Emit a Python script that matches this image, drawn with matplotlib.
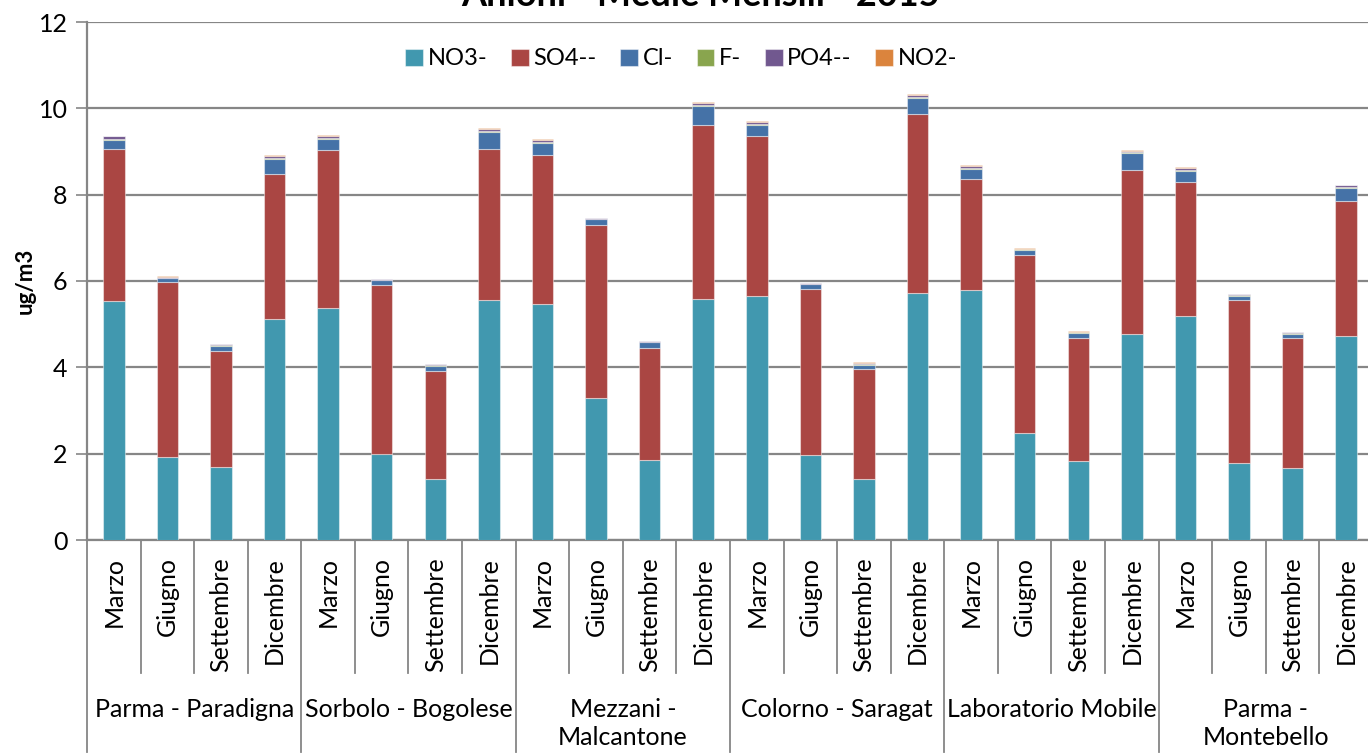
import numpy as np
import matplotlib.pyplot as plt
import matplotlib.transforms as mtransforms

plt.rcParams['font.family'] = ['Lato', 'DejaVu Sans']

stations = ["Parma - Paradigna", "Sorbolo - Bogolese", "Mezzani -\nMalcantone",
            "Colorno - Saragat", "Laboratorio Mobile", "Parma -\nMontebello"]
months = ["Marzo", "Giugno", "Settembre", "Dicembre"]

no3 = [5.54, 1.93, 1.68, 5.12, 5.37, 1.99, 1.42, 5.55, 5.46, 3.30, 1.85, 5.58,
       5.65, 1.96, 1.42, 5.72, 5.78, 2.48, 1.83, 4.77, 5.19, 1.79, 1.67, 4.72]
so4 = [3.51, 4.04, 2.70, 3.37, 3.66, 3.92, 2.50, 3.50, 3.47, 4.00, 2.60, 4.03,
       3.72, 3.86, 2.53, 4.16, 2.58, 4.13, 2.85, 3.81, 3.11, 3.78, 3.00, 3.13]
cl = [0.22, 0.09, 0.12, 0.34, 0.27, 0.11, 0.12, 0.41, 0.26, 0.13, 0.13, 0.45,
      0.25, 0.11, 0.11, 0.37, 0.24, 0.11, 0.12, 0.38, 0.25, 0.09, 0.11, 0.31]
f = [0.02, 0.02, 0.01, 0.02, 0.02, 0.01, 0.01, 0.02, 0.02, 0.01, 0.01, 0.02,
     0.02, 0.01, 0.02, 0.02, 0.02, 0.01, 0.01, 0.02, 0.02, 0.01, 0.01, 0.02]
po4 = [0.06, 0.02, 0.02, 0.05, 0.05, 0.01, 0.02, 0.05, 0.05, 0.02, 0.01, 0.04,
       0.05, 0.01, 0.02, 0.04, 0.05, 0.02, 0.01, 0.03, 0.05, 0.02, 0.02, 0.04]
no2 = [0.02, 0.02, 0.01, 0.02, 0.01, 0.01, 0.01, 0.01, 0.02, 0.01, 0.01, 0.03,
       0.02, 0.01, 0.03, 0.02, 0.01, 0.02, 0.02, 0.02, 0.01, 0.02, 0.02, 0.01]

series = [("NO3-", no3, "#4198AF"), ("SO4--", so4, "#AA4643"), ("Cl-", cl, "#4572A7"),
          ("F-", f, "#89A54E"), ("PO4--", po4, "#71588F"), ("NO2-", no2, "#DB843D")]

grey = "#868686"
fig = plt.figure(figsize=(13.68, 7.53), dpi=100)
ax = fig.add_axes([87 / 1368, 1 - 540 / 753, 1286 / 1368, 518 / 753])

n = len(stations) * len(months)
x = np.arange(n)
bottom = np.zeros(n)
for name, vals, col in series:
    ax.bar(x, vals, width=0.4, bottom=bottom, color=col, label=name,
           edgecolor=(1, 1, 1, 0.45), linewidth=0.8, zorder=3)
    bottom += np.array(vals)

ax.set_xlim(-0.5, n - 0.5)
ax.set_ylim(0, 12)
ax.set_yticks(range(0, 13, 2))
ax.tick_params(axis='y', labelsize=18, length=8, width=1.2, color=grey, pad=6)
ax.grid(axis='y', color=grey, linewidth=1.6, zorder=0)
ax.set_xticks([])
for s in ["top", "right"]:
    ax.spines[s].set_visible(False)
for s in ["left", "bottom"]:
    ax.spines[s].set_color(grey)
    ax.spines[s].set_linewidth(1.6)
ax.set_ylabel("ug/m3", fontsize=16, fontweight='bold', labelpad=2)

# multi-level category axis
trans = mtransforms.blended_transform_factory(ax.transData, ax.transAxes)
for i in range(n + 1):
    low = -0.41 if i % 4 == 0 else -0.257
    ax.plot([i - 0.5, i - 0.5], [0, low], color=grey, lw=1.3,
            transform=trans, clip_on=False)
for i in range(n):
    ax.text(i, -0.033, months[i % 4], rotation=90, ha='center', va='top',
            fontsize=18, transform=trans)
for j, st in enumerate(stations):
    ax.text(j * 4 + 1.5, -0.305, st, ha='center', va='top', fontsize=18,
            linespacing=1.25, transform=trans)

ax.legend(loc='upper center', bbox_to_anchor=(0.462, 0.99), ncol=6, frameon=False,
          fontsize=17, handlelength=0.75, handleheight=0.75, handletextpad=0.2,
          columnspacing=1.0)

fig.text(0.512, 1 - 6 / 753, "Anioni - Medie Mensili - 2015", ha='center',
         va='baseline', fontsize=26, fontweight='bold')

fig.savefig("out.png", dpi=100)
